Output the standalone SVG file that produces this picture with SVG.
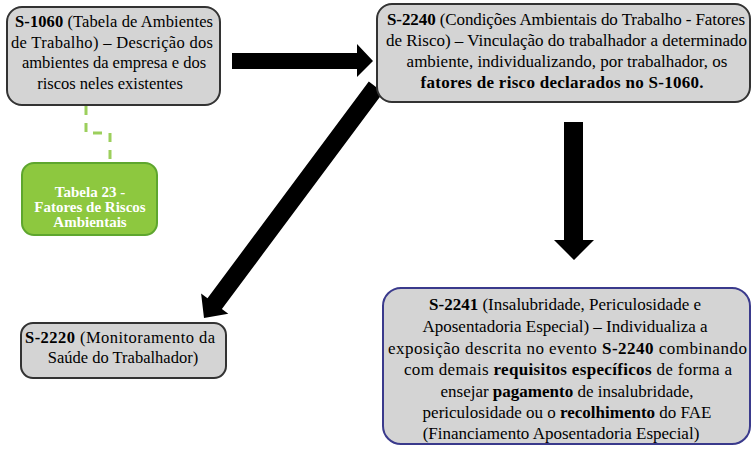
<svg xmlns="http://www.w3.org/2000/svg" width="755" height="451" viewBox="0 0 755 451">
<defs>
<style>
.box{fill:#d4d4d4;stroke:#333;stroke-width:2}
.blue{fill:#d4d4d4;stroke:#3a3a8c;stroke-width:2}
.green{fill:#8dc83f;stroke:#5ea62e;stroke-width:2}
.t{font-family:"Liberation Serif","Times New Roman",serif;font-size:17px;fill:#000;text-anchor:middle}
.s{font-size:16.5px}
.g{font-family:"Liberation Serif","Times New Roman",serif;font-size:15px;font-weight:bold;fill:#fff;text-anchor:middle}
.b{font-weight:bold}
.arrow{fill:#000}
.dash{fill:none;stroke:#9ccf5c;stroke-width:3;stroke-dasharray:9,8}
</style>
</defs>
<rect width="755" height="451" fill="#fff"/>
<g id="connectors">
<path class="dash" d="M86,106 V133 H110 V163"/>
<polygon class="arrow" points="232,53 357,53 357,44 373,61 357,77 357,69 232,69"/>
<polygon class="arrow" points="564,122 583,122 583,240 594,240 574,260 554,240 564,240"/>
<polygon class="arrow" points="383.2,92.4 221.9,309 228.3,313.8 204,318 201.1,293.4 207.5,298.2 368.8,81.6"/>
</g>
<g id="s1060">
<rect class="box" x="7" y="7" width="213" height="98" rx="15"/>
<text class="t s" x="114" y="27" textLength="198" lengthAdjust="spacing"><tspan class="b">S-1060</tspan> (Tabela de Ambientes</text>
<text class="t s" x="112" y="47.5" textLength="202" lengthAdjust="spacing">de Trabalho) – Descrição dos</text>
<text class="t s" x="114" y="68">ambientes  da empresa e dos</text>
<text class="t s" x="110" y="88.5">riscos neles existentes</text>
</g>
<g id="tabela23">
<rect class="green" x="22" y="163" width="135" height="72" rx="12"/>
<text class="g" x="90" y="197">Tabela 23 -</text>
<text class="g" x="90" y="212">Fatores de Riscos</text>
<text class="g" x="90" y="227">Ambientais</text>
</g>
<g id="s2240">
<rect class="box" x="377" y="4" width="373" height="98" rx="15"/>
<text class="t" x="566" y="25" textLength="358" lengthAdjust="spacing"><tspan class="b">S-2240</tspan> (Condições Ambientais  do Trabalho - Fatores</text>
<text class="t" x="566.5" y="46" textLength="361" lengthAdjust="spacing">de Risco) – Vinculação  do trabalhador a determinado</text>
<text class="t" x="567" y="67">ambiente,  individualizando,  por trabalhador,  os</text>
<text class="t b" x="562" y="88" textLength="283" lengthAdjust="spacing">fatores de risco declarados no S-1060.</text>
</g>
<g id="s2220">
<rect class="box" x="21" y="323" width="205" height="55" rx="12"/>
<text class="t s" x="120" y="343" textLength="190" lengthAdjust="spacing"><tspan class="b">S-2220</tspan> (Monitoramento  da</text>
<text class="t s" x="123" y="363">Saúde do Trabalhador)</text>
</g>
<g id="s2241">
<rect class="blue" x="383" y="288" width="367" height="156" rx="18"/>
<text class="t" x="565" y="310"><tspan class="b">S-2241</tspan> (Insalubridade,  Periculosidade  e</text>
<text class="t" x="565" y="332">Aposentadoria Especial)  – Individualiza  a</text>
<text class="t" x="567.5" y="353.5" textLength="359" lengthAdjust="spacing">exposição descrita no evento <tspan class="b">S-2240</tspan> combinando</text>
<text class="t" x="568" y="375" textLength="328" lengthAdjust="spacing">com demais <tspan class="b">requisitos específicos</tspan> de forma a</text>
<text class="t" x="567" y="396.5">ensejar  <tspan class="b">pagamento</tspan> de insalubridade,</text>
<text class="t" x="567" y="418">periculosidade  ou o <tspan class="b">recolhimento</tspan> do FAE</text>
<text class="t" x="561" y="439">(Financiamento  Aposentadoria  Especial)</text>
</g>
</svg>
